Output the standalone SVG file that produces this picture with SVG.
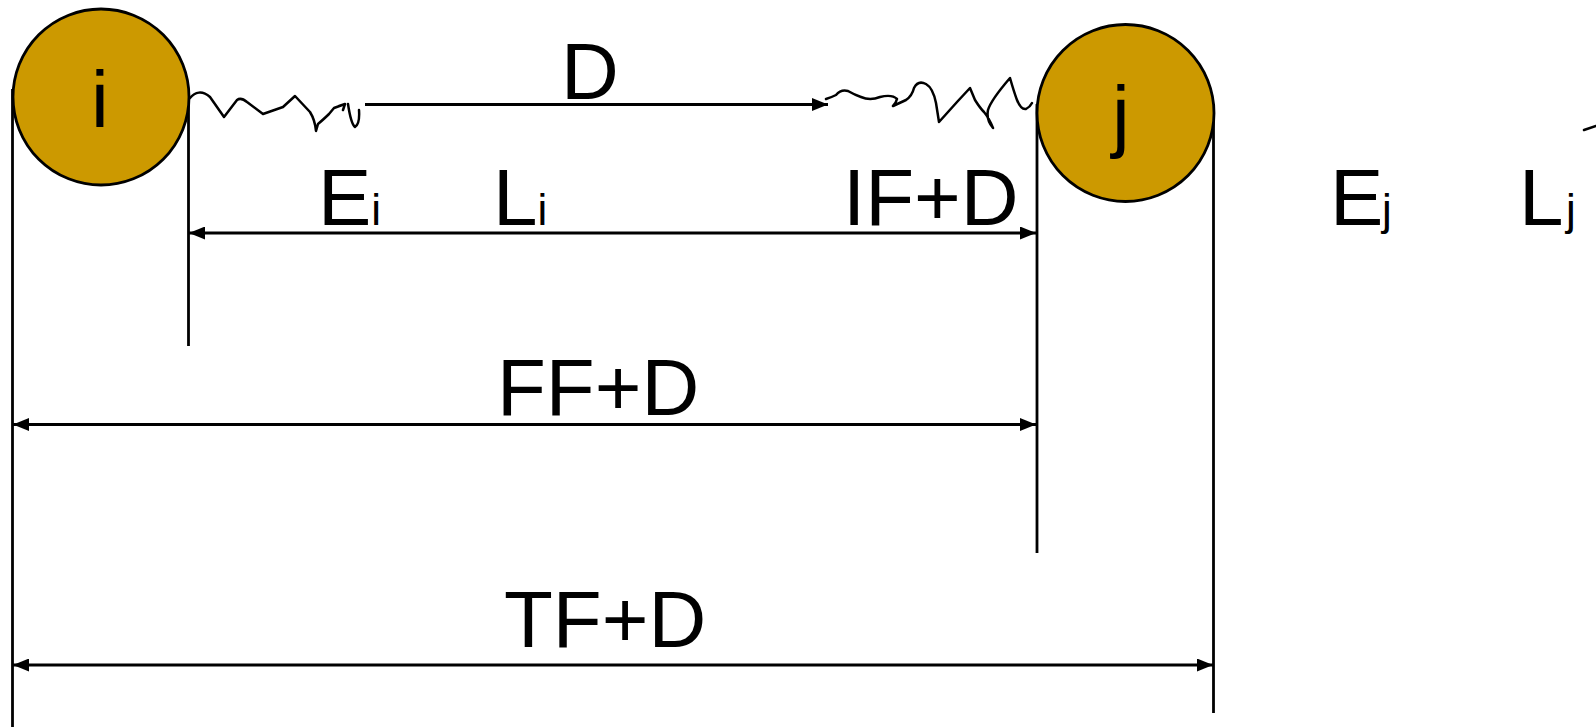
<svg xmlns="http://www.w3.org/2000/svg" width="1596" height="727" viewBox="0 0 1596 727">
<style>
.ln{stroke:#000;stroke-width:2.8;fill:none}
.sq{stroke:#000;stroke-width:2.5;fill:none;stroke-linejoin:round;stroke-linecap:round}
.nd{fill:#cc9900;stroke:#000;stroke-width:2.8}
.t{font-family:"Liberation Sans",Arial,sans-serif;font-size:80px;fill:#000}
.s{font-size:44px}
</style>
<defs>
<marker id="ah" viewBox="0 0 16 13" refX="16" refY="6.5" markerWidth="16" markerHeight="13" markerUnits="userSpaceOnUse" orient="auto-start-reverse">
<path d="M0,0 L16,6.5 L0,13 Z" fill="#000"/>
</marker>
</defs>
<rect width="1596" height="727" fill="#fff"/>
<g id="guides">
<line class="ln" x1="12.5" y1="89" x2="12.5" y2="727"/>
<line class="ln" x1="188.5" y1="97" x2="188.5" y2="346"/>
<line class="ln" x1="1037" y1="104" x2="1037" y2="553"/>
<line class="ln" x1="1213.5" y1="104" x2="1213.5" y2="713"/>
</g>
<g id="node-i">
<circle class="nd" cx="101" cy="97" r="88"/>
<text class="t" x="100" y="127" text-anchor="middle">i</text>
</g>
<g id="node-j">
<circle class="nd" cx="1125.5" cy="113" r="88.5"/>
<text class="t" x="1121" y="142" text-anchor="middle">j</text>
</g>
<g id="connectors">
<path class="sq" d="M190,98 C195,92 202,90 210,97 L224,117 L237,100 Q241,97 247,102 L263,114 L283,107 L295,96 L310,112 Q315,120 316,131 L318,124 Q325,118 329,114 L334,108 L345,104 M339,106 L345,104 L343,110 M348,104 Q351,124 355,127 Q360,124 359,110"/>
<line class="ln" x1="365" y1="104.5" x2="828" y2="104.5" marker-end="url(#ah)"/>
<path class="sq" d="M826,99 Q832,97 836,95 Q841,89 848,91 Q855,95 861,97 Q870,101 880,97 Q892,94 897,99 Q896,103 893,106 L906,100 Q912,96 914,88 Q918,80 926,84 Q933,88 936,103 L939,122 L957,102 L970,88 L975,100 Q980,108 984,112 Q989,118 993,128 Q986,120 988,110 Q991,100 1010,78 Q1014,92 1017,100 Q1021,110 1026,109 Q1030,107 1032,103"/>
<path class="sq" d="M1584,130 L1596,126"/>
<line class="ln" x1="189" y1="233" x2="1036" y2="233" marker-start="url(#ah)" marker-end="url(#ah)"/>
<line class="ln" x1="13" y1="424.5" x2="1036" y2="424.5" marker-start="url(#ah)" marker-end="url(#ah)"/>
<line class="ln" x1="13" y1="665" x2="1213" y2="665" marker-start="url(#ah)" marker-end="url(#ah)"/>
</g>
<g id="labels">
<text class="t" x="561" y="99">D</text>
<text class="t" x="318" y="225">E<tspan class="s">i</tspan></text>
<text class="t" x="493" y="225">L<tspan class="s">i</tspan></text>
<text class="t" x="843" y="225">IF+D</text>
<text class="t" x="1330" y="225">E<tspan class="s" x="1382">j</tspan></text>
<text class="t" x="1519" y="225">L<tspan class="s" x="1566">j</tspan></text>
<text class="t" x="497" y="415">FF+D</text>
<text class="t" x="504" y="647">TF+D</text>
</g>
</svg>
